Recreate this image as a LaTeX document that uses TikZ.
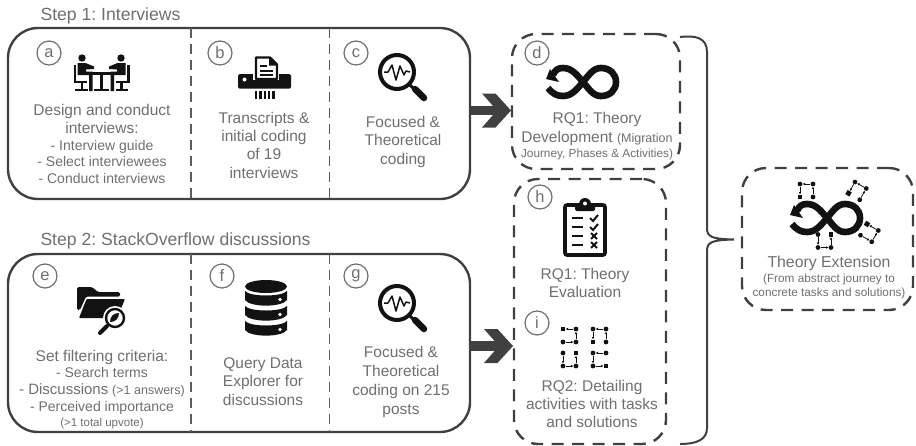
\documentclass[tikz,border=0pt]{standalone}
\usepackage{fontspec}
\setmainfont{Liberation Sans}
\usetikzlibrary{arrows.meta}
\definecolor{txtc}{HTML}{6F6F6F}
\definecolor{linec}{HTML}{404040}
\definecolor{icon}{HTML}{121212}
\tikzset{
  txt/.style n args={2}{align=center,text=txtc,inner sep=0pt,anchor=base,font=\frenchspacing\fontsize{#1}{#2}\selectfont},
  stepbox/.style={draw=linec,line width=2.4pt,rounded corners=30pt,inner sep=0pt,outer sep=0pt,minimum width=462pt,minimum height=#1},
  rqbox/.style={draw=linec,line width=2.4pt,rounded corners=24pt,dash pattern=on 12pt off 8.5pt,inner sep=0pt,outer sep=0pt},
  divider/.style={draw=linec!85!white,line width=1.3pt,dash pattern=on 10pt off 6pt},
  letter/.style={circle,draw=txtc,line width=1.2pt,text=txtc,inner sep=0pt,minimum size=24pt,font=\fontsize{16.5}{16.5}\selectfont},
  shaft/.style={draw=linec,line width=9.5pt},
  braceline/.style={draw=linec,line width=2pt},
  mini/.style={line width=.8pt,draw=icon,-{Latex[length=2.4pt,width=2.6pt]},shorten >=2.6pt,shorten <=2.6pt},
  magnifier/.pic={
    \draw[icon,line width=4pt] (0,0) circle (17);
    \draw[icon,line width=3pt] (12,12) -- (19,19);
    \draw[icon,line width=6.5pt,line cap=round] (18,17) -- (27,26);
    \draw[icon,line width=1.5pt,line join=round] (-13,0) -- (-9,0) -- (-5,-7) -- (-1,8) -- (3,-6) -- (7,3) -- (9,-1) -- (13,0);
  },
  infinityicon/.pic={
    \draw[icon,line width=6.6pt] (-35,6) .. controls (-30,12) and (-26,14) .. (-20,14) .. controls (-11,14) and (-6,7) .. (0,0) .. controls (6,-7) and (10,-14) .. (18,-14) .. controls (27,-14) and (33,-8) .. (33,0) .. controls (33,8) and (27,14) .. (18,14) .. controls (10,14) and (6,7) .. (0,0) .. controls (-6,-7) and (-11,-14) .. (-20,-14) .. controls (-25,-14) and (-28,-12) .. (-30,-7);
    \fill[icon] (-33,-13) -- (-37,-3) -- (-24,0) -- cycle;
  },
  person/.pic={
    \fill[icon] (0,-33) circle (3.7);
    \fill[icon] (-4.5,-28) -- (3.5,-28) -- (12,-24.5) -- (12,-22) -- (4,-21.5) -- (4,-19.5) -- (10.5,-19.5) -- (10.5,0) -- (7,0) -- (7,-16) -- (-4.5,-16) -- cycle;
    \fill[icon] (-8.5,-26) rectangle (-6,-9);
    \fill[icon] (-8.5,-10.5) rectangle (5,-8);
    \fill[icon] (-1.5,-8) rectangle (0.8,-2);
    \fill[icon] (-7,-2.5) rectangle (5.5,0);
  },
  minigA/.pic={
    \fill[icon] (-2.4,-2.4) rectangle (2.4,2.4);
    \foreach \p in {(13,0),(13,13),(0,13)} \fill[icon] \p circle (2.4);
    \draw[mini] (0,13) -- (13,13); \draw[mini] (13,13) -- (13,0); \draw[mini] (13,0) -- (0,0);
  },
  minigB/.pic={
    \fill[icon] (-2.4,10.6) rectangle (2.4,15.4);
    \foreach \p in {(0,0),(13,0),(13,13)} \fill[icon] \p circle (2.4);
    \draw[mini] (13,0) -- (0,0); \draw[mini] (0,0) -- (0,13); \draw[mini] (13,13) -- (13,0);
  },
  minigC/.pic={
    \fill[icon] (10.6,-2.4) rectangle (15.4,2.4);
    \foreach \p in {(0,0),(0,13),(13,13)} \fill[icon] \p circle (2.4);
    \draw[mini] (0,0) -- (0,13); \draw[mini] (0,13) -- (13,13); \draw[mini] (13,13) -- (13,0);
  },
  minigD/.pic={
    \fill[icon] (10.6,10.6) rectangle (15.4,15.4);
    \foreach \p in {(0,0),(13,0),(0,13)} \fill[icon] \p circle (2.4);
    \draw[mini] (13,0) -- (0,0); \draw[mini] (0,0) -- (0,13); \draw[mini] (0,13) -- (13,13);
  },
  chevron/.pic={
    \fill[linec] (-29,-17) -- (-15.5,-17) -- (0,0) -- (-15.5,17) -- (-29,17) -- (-14,0) -- cycle;
  }
}
\begin{document}
\begin{tikzpicture}[x=1pt,y=-1pt]
\useasboundingbox (0,0) rectangle (916,445);
% step titles
\node[txt={17.6}{18}] (step1) at (110.5,20) {Step 1: Interviews};
\node[txt={17.6}{18}] (step2) at (175.5,245) {Step 2: StackOverflow discussions};
% step boxes
\node[stepbox=171pt] (box1) at (239,113.5) {};
\node[stepbox=178pt] (box2) at (239,343) {};
\coordinate (t1) at (191,28); \coordinate (b1) at (191,199);
\coordinate (t2) at (329.5,28); \coordinate (b2) at (329.5,199);
\coordinate (t3) at (191,254); \coordinate (b3) at (191,432);
\coordinate (t4) at (329.5,254); \coordinate (b4) at (329.5,432);
\draw[divider] (t1) -- (b1); \draw[divider] (t2) -- (b2);
\draw[divider] (t3) -- (b3); \draw[divider] (t4) -- (b4);
% result boxes
\node[rqbox,minimum width=168pt,minimum height=135pt] (boxd) at (596,101.5) {};
\node[rqbox,minimum width=152pt,minimum height=265pt] (boxh) at (590,311.5) {};
\node[rqbox,minimum width=171pt,minimum height=142pt] (boxt) at (827.5,239) {};
% block arrows
\coordinate (tip1) at (511,110.5);
\coordinate (tip2) at (513,346);
\draw[shaft] (box1.east |- tip1) -- ([xshift=-12pt]tip1);
\draw[shaft] (box2.east |- tip2) -- ([xshift=-12pt]tip2);
\pic at (tip1) {chevron};
\pic at (tip2) {chevron};
% brace
\coordinate (bt) at (680,37); \coordinate (bn) at (734,239.5); \coordinate (bb) at (680,444);
\draw[braceline] (bt) .. controls (696,35) and (707,38) .. (707,52) -- (707,228) .. controls (707,237) and (712,239) .. (bn) .. controls (712,240) and (707,242) .. (707,251) -- (707,428) .. controls (707,440) and (696,444) .. (bb);
% letters
\node[letter] (la) at (49,53) {a};
\node[letter] (lb) at (220,53) {b};
\node[letter] (lc) at (356,53) {c};
\node[letter] (ld) at (537,53) {d};
\node[letter] (lh) at (540,197) {h};
\node[letter] (li) at (537,323) {i};
\node[letter] (le) at (45,276) {e};
\node[letter] (lf) at (222,276) {f};
\node[letter] (lg) at (356,276) {g};
% texts
\node[txt={15.5}{18}] (ta) at (102,133) {Design and conduct\\interviews:};
\node[txt={14}{16.3}] (ta2) at (102,183) {- Interview guide\\- Select interviewees\\- Conduct interviews};
\node[txt={15.5}{18.3}] (tb) at (264,178) {Transcripts \&\\initial coding\\of 19\\interviews};
\node[txt={15.5}{18.5}] (tc) at (403,164) {Focused \&\\Theoretical\\coding};
\node[txt={15.5}{19}] (td) at (597,142) {RQ1: Theory\\Development {\fontsize{12.5}{14}\selectfont (Migration}};
\node[txt={11.8}{14}] (td2) at (597,157) {Journey, Phases \& Activities)};
\node[txt={15.5}{18}] (th) at (585,297) {RQ1: Theory\\Evaluation};
\node[txt={15.5}{18}] (ti) at (592,427) {RQ2: Detailing\\activities with tasks\\and solutions};
\node[txt={15.5}{18}] (te) at (102,361) {Set filtering criteria:};
\node[txt={14}{17}] (te2) at (102,411) {- Search terms\\{\fontsize{15}{17}\selectfont - Discussions} {\fontsize{12.5}{13}\selectfont (>1 answers)}\\- Perceived importance};
\node[txt={11.5}{12}] (te3) at (102,426) {(>1 total upvote)};
\node[txt={15.5}{18.5}] (tf) at (263,405) {Query Data\\Explorer for\\discussions};
\node[txt={15.5}{18.7}] (tg) at (401,414) {Focused \&\\Theoretical\\coding on 215\\posts};
\node[txt={15.8}{18}] (tt) at (829,267) {Theory Extension};
\node[txt={11.8}{14}] (tt2) at (829,296) {(From abstract journey to\\concrete tasks and solutions)};
% icon a
\pic at (82,91) {person};
\pic[xscale=-1] at (121,91) {person};
\fill[icon] (87,72) rectangle (116,74.5);
\fill[icon] (100.3,74.5) rectangle (102.9,89);
\fill[icon] (94,88.5) rectangle (109,91);
% icon b shredder
\fill[icon,rounded corners=1.5pt] (238,74) rectangle (291,88.5);
\fill[white] (253,56) rectangle (279,80);
\draw[icon,line width=2.2pt,line join=round,fill=white] (256,79) -- (256,57.5) -- (270,57.5) -- (277,64.5) -- (277,79) -- cycle;
\fill[icon] (269,57) -- (277.5,65.5) -- (269,65.5) -- cycle;
\fill[icon] (260,65) rectangle (267,67);
\fill[icon] (260,69.5) rectangle (273,71.5);
\fill[icon] (260,74) rectangle (273,76);
\fill[white] (244.5,79.5) circle (2);
\foreach \x in {255,259.3,263.6,267.9,272.2} \fill[icon] (\x,91) rectangle +(2.4,8);
% icon c, g
\pic at (397,72) {magnifier};
\pic at (397,303) {magnifier};
% icon d
\pic at (583,82) {infinityicon};
% icon e folder
\fill[icon,rounded corners=1.5pt] (77,287) -- (92,287) -- (98,292) -- (120,292) -- (120,296.5) -- (86,296.5) -- (80,310) -- (77,310) -- cycle;
\fill[icon,rounded corners=1pt] (86.5,299) -- (125,299) -- (117,318) -- (79,318) -- cycle;
\fill[white] (115,318) circle (12);
\fill[white] (98,335) -- (113,322) -- (117,326) -- (102,338) -- cycle;
\draw[icon,line width=2.4pt,fill=white] (115,318) circle (9);
\draw[icon,line width=4pt,line cap=round] (107,326) -- (100,333);
\fill[icon] (110,322) .. controls (110,316) and (114,313) .. (119,313) .. controls (119,319) and (115,322) .. (110,322) -- cycle;
% icon f database
\fill[icon] (266,286.5) ellipse (21 and 6.5);
\foreach \y in {0,15,30} {
  \fill[icon] (245,291+\y) .. controls (250,297+\y) and (282,297+\y) .. (287,291+\y) -- (287,300+\y) .. controls (282,307.5+\y) and (250,307.5+\y) .. (245,300+\y) -- cycle;
  \fill[white] (280,299.5+\y) circle (1.8);
}
% icon h clipboard
\draw[icon,line width=3.6pt,rounded corners=2pt] (565,205) rectangle (605,255);
\fill[icon,rounded corners=1.5pt] (575,203) rectangle (595,211);
\fill[icon] (585,204) circle (6);
\fill[white] (585,203.5) circle (2);
\foreach \y in {218,227,236,245} \fill[icon] (572,\y-1.2) rectangle (583,\y+1.2);
\foreach \y in {218,227} \draw[icon,line width=2pt] (590,\y) -- (593,\y+3) -- (598,\y-3);
\foreach \y in {236,245} {\draw[icon,line width=2pt] (591,\y-3) -- (597,\y+3); \draw[icon,line width=2pt] (591,\y+3) -- (597,\y-3);}
% icon i
\pic at (563,329) {minigA};
\pic at (593,329) {minigB};
\pic at (563,353) {minigC};
\pic at (593,353) {minigD};
% theory extension icon
\pic at (827,218) {infinityicon};
\pic at (800,184) {minigB};
\pic at (818,234.5) {minigC};
\pic[rotate=-30] at (855,182) {minigB};
\pic[rotate=-30] at (867,224) {minigA};
\end{tikzpicture}
\end{document}
